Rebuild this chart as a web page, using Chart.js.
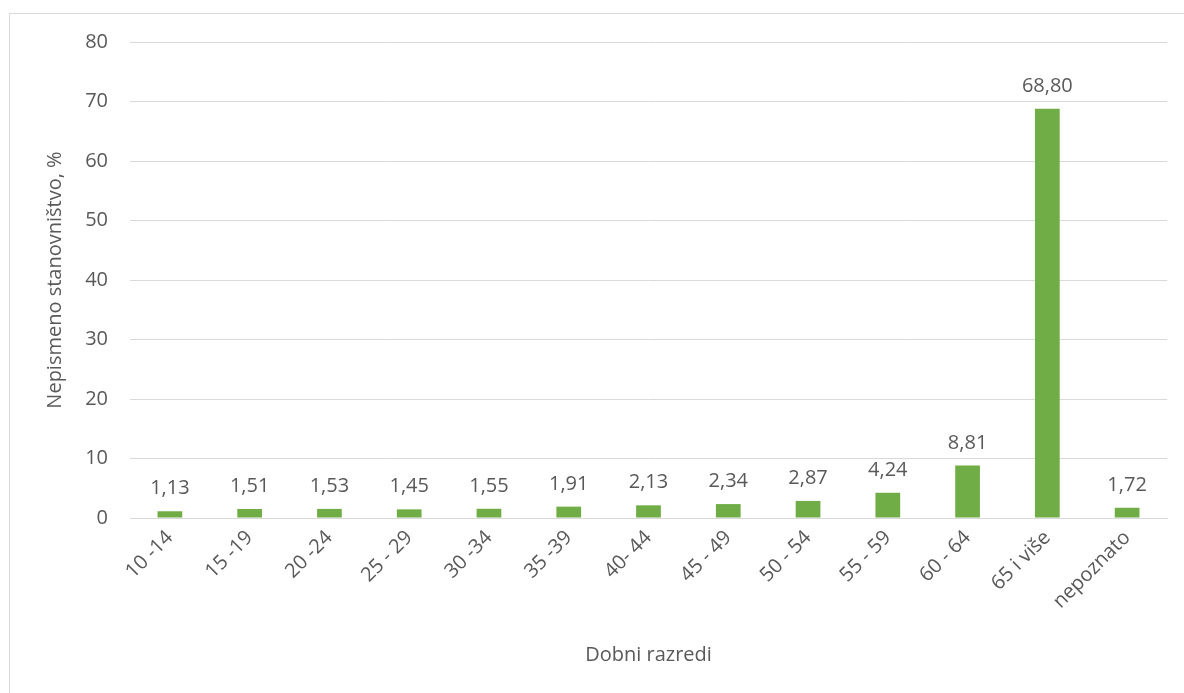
<!DOCTYPE html>
<html>
<head>
<meta charset="utf-8">
<script src="https://cdn.jsdelivr.net/npm/chart.js@4/dist/chart.umd.min.js"></script>
<style>
  html, body { margin: 0; padding: 0; background: #fff; }
  #wrap { position: relative; width: 1184px; height: 693px; }
  #frame { position: absolute; left: 9px; top: 13px; width: 1200px; height: 700px; border: 1px solid #d9d9d9; box-sizing: border-box; }
  canvas { position: absolute; left: 0; top: 0; }
</style>
</head>
<body>
<div id="wrap">
  <div id="frame"></div>
  <canvas id="chart" width="1184" height="693"></canvas>
</div>
<script>
// categorije (dobni razredi) i vrijednosti
const categories = ['10 -14', '15 -19', '20 -24', '25 - 29', '30 -34', '35 -39', '40- 44',
  '45 - 49', '50 - 54', '55 - 59', '60 - 64', '65 i više', 'nepoznato']
const values = [1.13, 1.51, 1.53, 1.45, 1.55, 1.91, 2.13, 2.34, 2.87, 4.24, 8.81, 68.80, 1.72]
const yTicks = [0, 10, 20, 30, 40, 50, 60, 70, 80]

const barColor = '#70ad47'
const textColor = '#595959'
const gridColor = '#d9d9d9'
const fontFamily = '"Open Sans", sans-serif'

// oznake vrijednosti iznad stupaca (decimalni zarez)
const valueLabels = {
  id: 'valueLabels',
  afterDatasetsDraw(chart) {
    const ctx = chart.ctx
    const meta = chart.getDatasetMeta(0)
    ctx.save()
    ctx.font = '20px ' + fontFamily
    ctx.fillStyle = textColor
    ctx.textAlign = 'center'
    ctx.textBaseline = 'alphabetic'
    meta.data.forEach(function (bar, i) {
      ctx.fillText(values[i].toFixed(2).replace('.', ','), bar.x, bar.y - 17)
    })
    ctx.restore()
  }
}

new Chart(document.getElementById('chart'), {
  type: 'bar',
  data: {
    labels: categories,
    datasets: [{
      data: values,
      backgroundColor: barColor,
      categoryPercentage: 1,
      barPercentage: 0.31
    }]
  },
  options: {
    responsive: false,
    animation: false,
    layout: { padding: { left: 0, top: 42, right: 17, bottom: 0 } },
    plugins: { legend: { display: false }, tooltip: { enabled: false } },
    scales: {
      x: {
        grid: { display: false, drawTicks: false },
        border: { color: gridColor, width: 1 },
        ticks: {
          color: textColor, font: { family: fontFamily, size: 20 },
          maxRotation: 45, minRotation: 45, padding: 8, autoSkip: false
        },
        title: { display: true, text: 'Dobni razredi', color: textColor,
          font: { family: fontFamily, size: 20 }, padding: { top: 20, bottom: 26 } },
        afterFit(scale) { scale.height = 175 }
      },
      y: {
        min: 0, max: 80,
        afterBuildTicks(scale) { scale.ticks = yTicks.map(v => ({ value: v })) },
        grid: { color: gridColor, drawTicks: false },
        border: { display: false },
        ticks: { color: textColor, font: { family: fontFamily, size: 20 }, padding: 22 },
        title: { display: true, text: 'Nepismeno stanovništvo, %', color: textColor,
          font: { family: fontFamily, size: 20 }, padding: { top: 43, bottom: 8 } },
        afterFit(scale) { scale.width = 130 }
      }
    }
  },
  plugins: [valueLabels]
})
</script>
</body>
</html>
